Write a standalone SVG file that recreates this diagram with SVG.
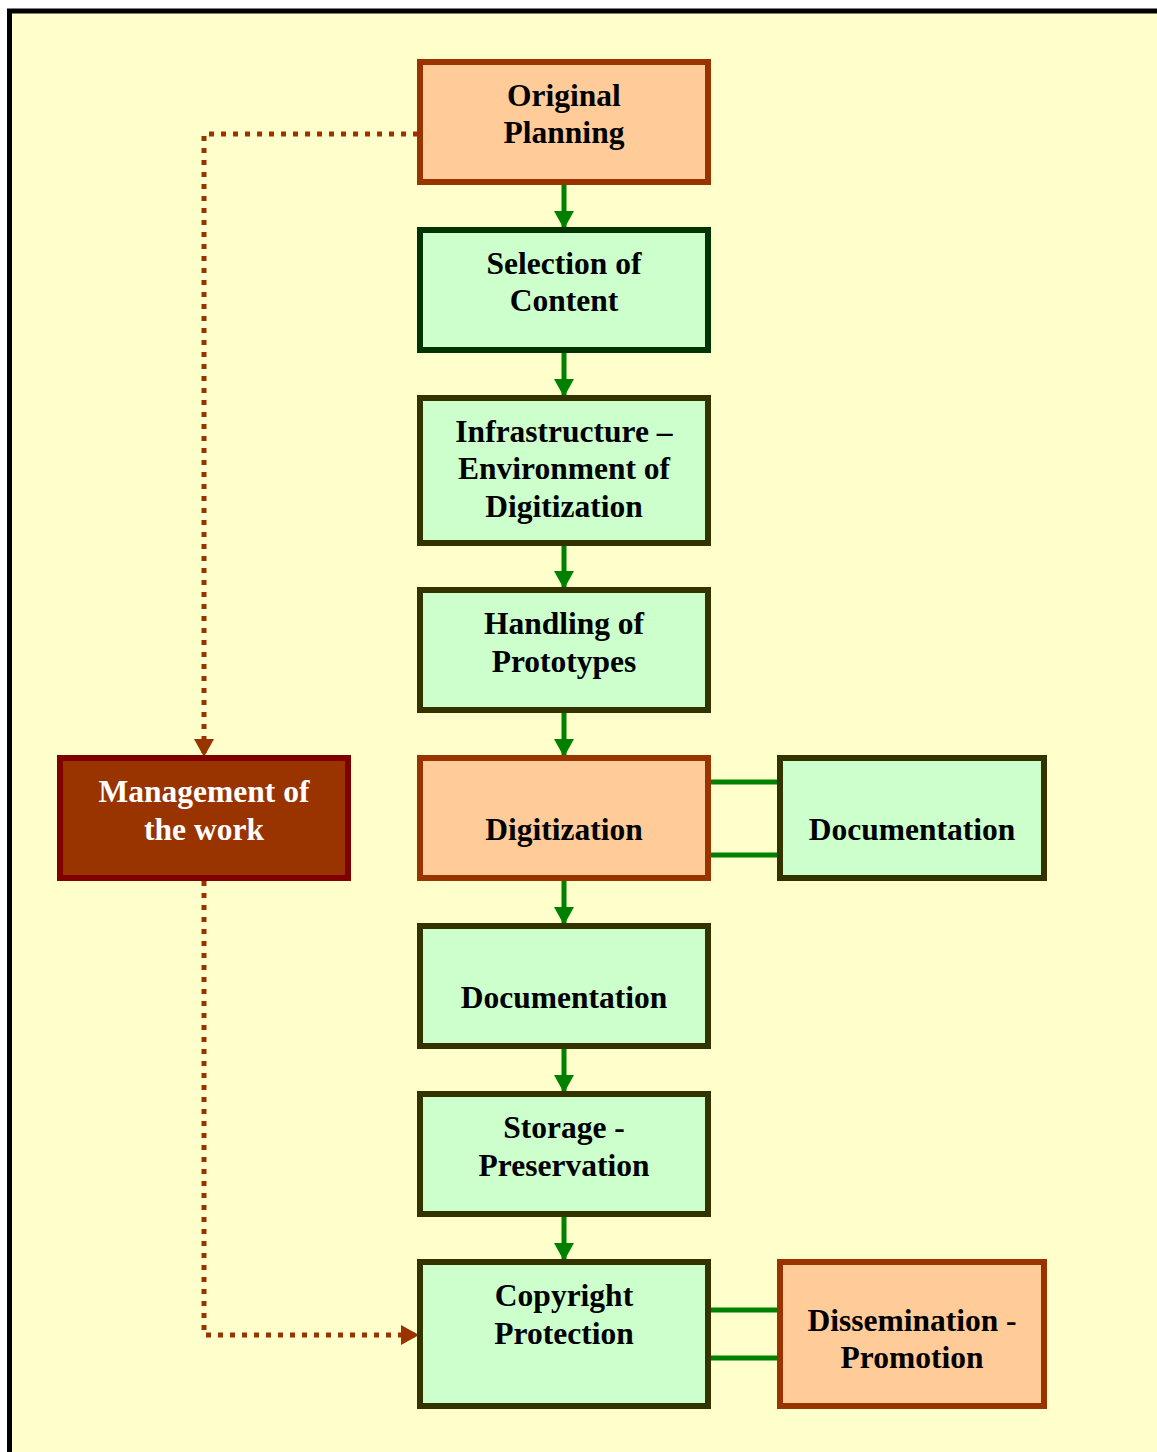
<svg xmlns="http://www.w3.org/2000/svg" width="1157" height="1452" viewBox="0 0 1157 1452">
<style>
  .box { stroke-width: 6; }
  .orange { fill: #FFCC99; stroke: #993300; }
  .green { fill: #CCFFCC; stroke: #333300; }
  .mgmt { fill: #993300; stroke: #800000; }
  text { font-family: "Liberation Serif", "Times New Roman", serif; font-weight: bold; font-size: 31.5px; text-anchor: middle; fill: #000; }
  .light { fill: #FFFFFF; }
  .flow { stroke: #008000; stroke-width: 5; fill: none; }
  .dot { stroke: #993300; stroke-width: 5; fill: none; stroke-dasharray: 5 7; }
</style>
<defs>
  <marker id="ga" markerUnits="userSpaceOnUse" markerWidth="19" markerHeight="20" refX="18" refY="10" orient="auto">
    <path d="M0,0 L18,10 L0,20 Z" fill="#008000"/>
  </marker>
  <marker id="ba" markerUnits="userSpaceOnUse" markerWidth="19" markerHeight="20" refX="18" refY="10" orient="auto">
    <path d="M0,0 L18,10 L0,20 Z" fill="#993300"/>
  </marker>
</defs>
<rect x="9.5" y="11" width="1160" height="1460" fill="#FFFFCC" stroke="#000" stroke-width="5"/>

<g id="connectors">
  <line class="flow" x1="564" y1="184" x2="564" y2="229" marker-end="url(#ga)"/>
  <line class="flow" x1="564" y1="352" x2="564" y2="397" marker-end="url(#ga)"/>
  <line class="flow" x1="564" y1="545" x2="564" y2="589" marker-end="url(#ga)"/>
  <line class="flow" x1="564" y1="712" x2="564" y2="757" marker-end="url(#ga)"/>
  <line class="flow" x1="564" y1="880" x2="564" y2="925" marker-end="url(#ga)"/>
  <line class="flow" x1="564" y1="1048" x2="564" y2="1093" marker-end="url(#ga)"/>
  <line class="flow" x1="564" y1="1216" x2="564" y2="1261" marker-end="url(#ga)"/>
  <line class="flow" x1="709" y1="782" x2="780" y2="782"/>
  <line class="flow" x1="709" y1="855" x2="780" y2="855"/>
  <line class="flow" x1="709" y1="1310" x2="780" y2="1310"/>
  <line class="flow" x1="709" y1="1358" x2="780" y2="1358"/>
  <path class="dot" d="M418,134 H204 V757" marker-end="url(#ba)"/>
  <path class="dot" d="M204,881 V1335 H419" marker-end="url(#ba)"/>
</g>

<g id="n1"><rect class="box orange" x="420" y="62" width="288" height="120"/>
  <text x="564" y="106">Original</text><text x="564" y="143">Planning</text></g>
<g id="n2"><rect class="box green" style="stroke:#003300" x="420" y="230" width="288" height="120"/>
  <text x="564" y="274">Selection of</text><text x="564" y="311">Content</text></g>
<g id="n3"><rect class="box green" x="420" y="398" width="288" height="145"/>
  <text x="564" y="442">Infrastructure –</text><text x="564" y="479">Environment of</text><text x="564" y="517">Digitization</text></g>
<g id="n4"><rect class="box green" x="420" y="590" width="288" height="120"/>
  <text x="564" y="634">Handling of</text><text x="564" y="672">Prototypes</text></g>
<g id="n5"><rect class="box orange" x="420" y="758" width="288" height="120"/>
  <text x="564" y="840">Digitization</text></g>
<g id="n6"><rect class="box green" x="780" y="758" width="264" height="120"/>
  <text x="912" y="840">Documentation</text></g>
<g id="n7"><rect class="box mgmt" x="60" y="758" width="288" height="120"/>
  <text class="light" x="204" y="802">Management of</text><text class="light" x="204" y="840">the work</text></g>
<g id="n8"><rect class="box green" x="420" y="926" width="288" height="120"/>
  <text x="564" y="1008">Documentation</text></g>
<g id="n9"><rect class="box green" x="420" y="1094" width="288" height="120"/>
  <text x="564" y="1138">Storage -</text><text x="564" y="1176">Preservation</text></g>
<g id="n10"><rect class="box green" x="420" y="1262" width="288" height="144"/>
  <text x="564" y="1306">Copyright</text><text x="564" y="1344">Protection</text></g>
<g id="n11"><rect class="box orange" x="780" y="1262" width="264" height="144"/>
  <text x="912" y="1331">Dissemination -</text><text x="912" y="1368">Promotion</text></g>
</svg>
